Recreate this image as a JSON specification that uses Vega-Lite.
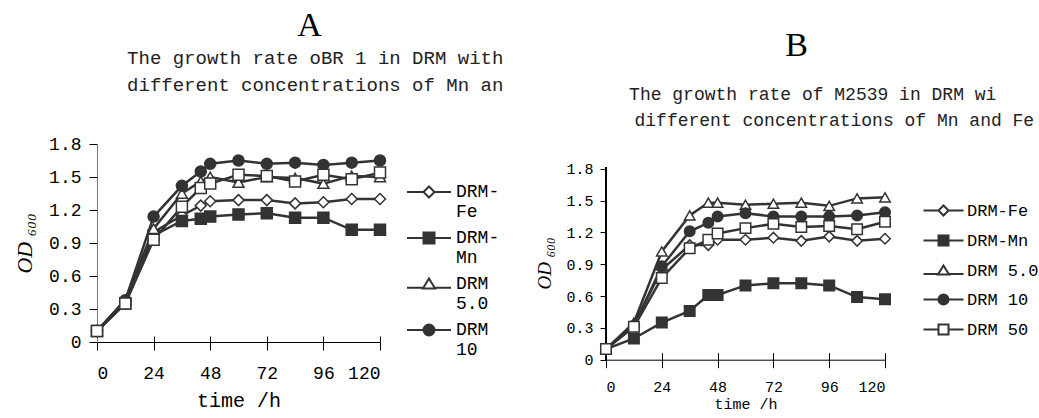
{
  "$schema": "https://vega.github.io/schema/vega-lite/v6.json",
  "background": "white",
  "padding": {"left": 13, "top": 9, "right": 0, "bottom": 0},
  "spacing": 31,
  "config": {
    "view": {"stroke": null},
    "axis": {"grid": false, "tickColor": "black", "labelColor": "black", "titleColor": "black", "titleFontWeight": "normal", "labelOverlap": false},
    "legend": {"labelColor": "black"}
  },
  "datasets": {
    "a": [
      {"t": 0, "v": 0.10, "s": "DRM-Fe"}, {"t": 12, "v": 0.38, "s": "DRM-Fe"}, {"t": 24, "v": 1.00, "s": "DRM-Fe"}, {"t": 36, "v": 1.15, "s": "DRM-Fe"}, {"t": 44, "v": 1.24, "s": "DRM-Fe"}, {"t": 48, "v": 1.28, "s": "DRM-Fe"}, {"t": 60, "v": 1.29, "s": "DRM-Fe"}, {"t": 72, "v": 1.29, "s": "DRM-Fe"}, {"t": 84, "v": 1.26, "s": "DRM-Fe"}, {"t": 96, "v": 1.27, "s": "DRM-Fe"}, {"t": 108, "v": 1.30, "s": "DRM-Fe"}, {"t": 120, "v": 1.30, "s": "DRM-Fe"},
      {"t": 0, "v": 0.10, "s": "DRM-Mn"}, {"t": 12, "v": 0.35, "s": "DRM-Mn"}, {"t": 24, "v": 0.97, "s": "DRM-Mn"}, {"t": 36, "v": 1.10, "s": "DRM-Mn"}, {"t": 44, "v": 1.12, "s": "DRM-Mn"}, {"t": 48, "v": 1.14, "s": "DRM-Mn"}, {"t": 60, "v": 1.16, "s": "DRM-Mn"}, {"t": 72, "v": 1.17, "s": "DRM-Mn"}, {"t": 84, "v": 1.13, "s": "DRM-Mn"}, {"t": 96, "v": 1.13, "s": "DRM-Mn"}, {"t": 108, "v": 1.02, "s": "DRM-Mn"}, {"t": 120, "v": 1.02, "s": "DRM-Mn"},
      {"t": 0, "v": 0.10, "s": "DRM 5.0"}, {"t": 12, "v": 0.38, "s": "DRM 5.0"}, {"t": 24, "v": 1.03, "s": "DRM 5.0"}, {"t": 36, "v": 1.35, "s": "DRM 5.0"}, {"t": 44, "v": 1.46, "s": "DRM 5.0"}, {"t": 48, "v": 1.50, "s": "DRM 5.0"}, {"t": 60, "v": 1.45, "s": "DRM 5.0"}, {"t": 72, "v": 1.50, "s": "DRM 5.0"}, {"t": 84, "v": 1.49, "s": "DRM 5.0"}, {"t": 96, "v": 1.44, "s": "DRM 5.0"}, {"t": 108, "v": 1.51, "s": "DRM 5.0"}, {"t": 120, "v": 1.50, "s": "DRM 5.0"},
      {"t": 0, "v": 0.10, "s": "DRM 10"}, {"t": 12, "v": 0.38, "s": "DRM 10"}, {"t": 24, "v": 1.14, "s": "DRM 10"}, {"t": 36, "v": 1.42, "s": "DRM 10"}, {"t": 44, "v": 1.55, "s": "DRM 10"}, {"t": 48, "v": 1.62, "s": "DRM 10"}, {"t": 60, "v": 1.65, "s": "DRM 10"}, {"t": 72, "v": 1.62, "s": "DRM 10"}, {"t": 84, "v": 1.63, "s": "DRM 10"}, {"t": 96, "v": 1.61, "s": "DRM 10"}, {"t": 108, "v": 1.63, "s": "DRM 10"}, {"t": 120, "v": 1.65, "s": "DRM 10"},
      {"t": 0, "v": 0.10, "s": "DRM 50"}, {"t": 12, "v": 0.35, "s": "DRM 50"}, {"t": 24, "v": 0.93, "s": "DRM 50"}, {"t": 36, "v": 1.23, "s": "DRM 50"}, {"t": 44, "v": 1.40, "s": "DRM 50"}, {"t": 48, "v": 1.44, "s": "DRM 50"}, {"t": 60, "v": 1.52, "s": "DRM 50"}, {"t": 72, "v": 1.51, "s": "DRM 50"}, {"t": 84, "v": 1.46, "s": "DRM 50"}, {"t": 96, "v": 1.52, "s": "DRM 50"}, {"t": 108, "v": 1.48, "s": "DRM 50"}, {"t": 120, "v": 1.54, "s": "DRM 50"}
    ],
    "b": [
      {"t": 0, "v": 0.10, "s": "DRM-Fe"}, {"t": 12, "v": 0.33, "s": "DRM-Fe"}, {"t": 24, "v": 0.85, "s": "DRM-Fe"}, {"t": 36, "v": 1.08, "s": "DRM-Fe"}, {"t": 44, "v": 1.08, "s": "DRM-Fe"}, {"t": 48, "v": 1.13, "s": "DRM-Fe"}, {"t": 60, "v": 1.13, "s": "DRM-Fe"}, {"t": 72, "v": 1.15, "s": "DRM-Fe"}, {"t": 84, "v": 1.12, "s": "DRM-Fe"}, {"t": 96, "v": 1.16, "s": "DRM-Fe"}, {"t": 108, "v": 1.12, "s": "DRM-Fe"}, {"t": 120, "v": 1.14, "s": "DRM-Fe"},
      {"t": 0, "v": 0.10, "s": "DRM-Mn"}, {"t": 12, "v": 0.20, "s": "DRM-Mn"}, {"t": 24, "v": 0.35, "s": "DRM-Mn"}, {"t": 36, "v": 0.46, "s": "DRM-Mn"}, {"t": 44, "v": 0.61, "s": "DRM-Mn"}, {"t": 48, "v": 0.61, "s": "DRM-Mn"}, {"t": 60, "v": 0.70, "s": "DRM-Mn"}, {"t": 72, "v": 0.72, "s": "DRM-Mn"}, {"t": 84, "v": 0.72, "s": "DRM-Mn"}, {"t": 96, "v": 0.70, "s": "DRM-Mn"}, {"t": 108, "v": 0.59, "s": "DRM-Mn"}, {"t": 120, "v": 0.57, "s": "DRM-Mn"},
      {"t": 0, "v": 0.10, "s": "DRM 5.0"}, {"t": 12, "v": 0.35, "s": "DRM 5.0"}, {"t": 24, "v": 1.02, "s": "DRM 5.0"}, {"t": 36, "v": 1.36, "s": "DRM 5.0"}, {"t": 44, "v": 1.48, "s": "DRM 5.0"}, {"t": 48, "v": 1.48, "s": "DRM 5.0"}, {"t": 60, "v": 1.46, "s": "DRM 5.0"}, {"t": 72, "v": 1.47, "s": "DRM 5.0"}, {"t": 84, "v": 1.48, "s": "DRM 5.0"}, {"t": 96, "v": 1.45, "s": "DRM 5.0"}, {"t": 108, "v": 1.52, "s": "DRM 5.0"}, {"t": 120, "v": 1.53, "s": "DRM 5.0"},
      {"t": 0, "v": 0.10, "s": "DRM 10"}, {"t": 12, "v": 0.32, "s": "DRM 10"}, {"t": 24, "v": 0.88, "s": "DRM 10"}, {"t": 36, "v": 1.21, "s": "DRM 10"}, {"t": 44, "v": 1.29, "s": "DRM 10"}, {"t": 48, "v": 1.35, "s": "DRM 10"}, {"t": 60, "v": 1.38, "s": "DRM 10"}, {"t": 72, "v": 1.35, "s": "DRM 10"}, {"t": 84, "v": 1.35, "s": "DRM 10"}, {"t": 96, "v": 1.35, "s": "DRM 10"}, {"t": 108, "v": 1.36, "s": "DRM 10"}, {"t": 120, "v": 1.39, "s": "DRM 10"},
      {"t": 0, "v": 0.10, "s": "DRM 50"}, {"t": 12, "v": 0.31, "s": "DRM 50"}, {"t": 24, "v": 0.77, "s": "DRM 50"}, {"t": 36, "v": 1.05, "s": "DRM 50"}, {"t": 44, "v": 1.13, "s": "DRM 50"}, {"t": 48, "v": 1.19, "s": "DRM 50"}, {"t": 60, "v": 1.24, "s": "DRM 50"}, {"t": 72, "v": 1.28, "s": "DRM 50"}, {"t": 84, "v": 1.25, "s": "DRM 50"}, {"t": 96, "v": 1.26, "s": "DRM 50"}, {"t": 108, "v": 1.23, "s": "DRM 50"}, {"t": 120, "v": 1.30, "s": "DRM 50"}
    ]
  },
  "hconcat": [
    {
      "width": 283,
      "height": 198,
      "data": {"name": "a"},
      "title": {
        "text": "A",
        "subtitle": ["\u200b\u00a0The growth rate oBR 1 in DRM with", "\u200b\u00a0different concentrations of Mn an"],
        "font": "Liberation Serif", "fontSize": 34, "fontWeight": "normal", "color": "black",
        "subtitleFont": "Liberation Mono", "subtitleFontSize": 19, "subtitleLineHeight": 27, "subtitleColor": "#222",
        "subtitlePadding": 6, "anchor": "middle", "frame": "group", "dx": 71, "offset": 40
      },
      "layer": [
        {
          "mark": {"type": "line", "color": "#333", "strokeWidth": 2.5},
          "encoding": {
            "x": {"field": "t", "type": "quantitative", "scale": {"domain": [0, 120], "nice": false},
              "axis": {"values": [0, 24, 48, 72, 96, 120], "tickCount": 12, "title": "time /h", "labelOverlap": false, "labelFont": "Liberation Mono", "labelFontSize": 18, "labelPadding": 14, "tickSize": 8, "domainColor": "black", "titleFont": "Liberation Mono", "titleFontSize": 20, "titlePadding": 8}},
            "y": {"field": "v", "type": "quantitative", "scale": {"domain": [0, 1.8], "nice": false},
              "axis": {"values": [0, 0.3, 0.6, 0.9, 1.2, 1.5, 1.8], "tickCount": 20, "format": ".1~f", "title": "OD ₆₀₀", "labelOverlap": false, "labelFont": "Liberation Mono", "labelFontSize": 18, "labelPadding": 8, "tickSize": 8, "domainColor": "#777", "titleFont": "Liberation Serif", "titleFontStyle": "italic", "titleFontSize": 22, "titlePadding": 12}},
            "detail": {"field": "s"}
          }
        },
        {
          "mark": {"type": "point", "stroke": "#333", "strokeWidth": 1.5, "size": 121, "opacity": 1},
          "encoding": {
            "x": {"field": "t", "type": "quantitative", "axis": null},
            "y": {"field": "v", "type": "quantitative"},
            "shape": {"field": "s", "type": "nominal", "legend": null, "scale": {"domain": ["DRM-Fe", "DRM-Mn", "DRM 5.0", "DRM 10", "DRM 50"], "range": ["diamond", "square", "triangle-up", "circle", "square"]}},
            "fill": {"field": "s", "type": "nominal", "legend": null, "scale": {"domain": ["DRM-Fe", "DRM-Mn", "DRM 5.0", "DRM 10", "DRM 50"], "range": ["white", "#333", "white", "#333", "white"]}}
          }
        },
        {
          "mark": {"type": "point", "strokeWidth": 2, "size": 121, "opacity": 0},
          "encoding": {
            "x": {"field": "t", "type": "quantitative", "axis": {"orient": "bottom", "values": [0, 24, 48, 72, 96, 120], "tickCount": 12, "tickSize": -6, "labels": false, "domain": false, "title": null}},
            "y": {"field": "v", "type": "quantitative"},
            "shape": {"field": "s", "type": "nominal",
              "scale": {"domain": ["DRM-Fe", "DRM-Mn", "DRM 5.0", "DRM 10", "DRM 50"], "range": ["M-4,0H-1M1,0H4M-1,0L0,-1L1,0L0,1Z", "M-4,0H4M-1,-1H1V1H-1Z", "M-4,0.7H-1.1M1.1,0.7H4M0,-1L1.1,0.8L-1.1,0.8Z", "M-4,0H4M-1,0A1,1 0 1,0 1,0A1,1 0 1,0 -1,0Z", "M-4,0H-1M1,0H4M-1,-1H1V1H-1Z"]},
              "legend": {"title": null, "orient": "none", "legendX": 323, "legendY": 39, "values": ["DRM-Fe", "DRM-Mn", "DRM 5.0", "DRM 10"], "symbolSize": 121, "symbolOpacity": 1, "symbolStrokeWidth": 2, "labelFont": "Liberation Mono", "labelFontSize": 18, "labelOffset": 18, "labelBaseline": "middle", "rowPadding": 7,
                "labelExpr": "datum.label == 'DRM-Fe' ? ['DRM-', 'Fe'] : datum.label == 'DRM-Mn' ? ['DRM-', 'Mn'] : datum.label == 'DRM 5.0' ? ['DRM', '5.0'] : ['DRM', '10']"}},
            "fill": {"field": "s", "type": "nominal", "scale": {"domain": ["DRM-Fe", "DRM-Mn", "DRM 5.0", "DRM 10", "DRM 50"], "range": ["white", "#333", "white", "#333", "white"]},
              "legend": {"title": null, "orient": "none", "legendX": 323, "legendY": 39, "values": ["DRM-Fe", "DRM-Mn", "DRM 5.0", "DRM 10"], "symbolSize": 121, "symbolOpacity": 1, "symbolStrokeWidth": 2, "labelFont": "Liberation Mono", "labelFontSize": 18, "labelOffset": 18, "labelBaseline": "middle", "rowPadding": 7,
                "labelExpr": "datum.label == 'DRM-Fe' ? ['DRM-', 'Fe'] : datum.label == 'DRM-Mn' ? ['DRM-', 'Mn'] : datum.label == 'DRM 5.0' ? ['DRM', '5.0'] : ['DRM', '10']"}},
            "stroke": {"field": "s", "type": "nominal", "scale": {"domain": ["DRM-Fe", "DRM-Mn", "DRM 5.0", "DRM 10", "DRM 50"], "range": ["#333", "#333", "#333", "#333", "#333"]},
              "legend": {"title": null, "orient": "none", "legendX": 323, "legendY": 39, "values": ["DRM-Fe", "DRM-Mn", "DRM 5.0", "DRM 10"], "symbolSize": 121, "symbolOpacity": 1, "symbolStrokeWidth": 2, "labelFont": "Liberation Mono", "labelFontSize": 18, "labelOffset": 18, "labelBaseline": "middle", "rowPadding": 7,
                "labelExpr": "datum.label == 'DRM-Fe' ? ['DRM-', 'Fe'] : datum.label == 'DRM-Mn' ? ['DRM-', 'Mn'] : datum.label == 'DRM 5.0' ? ['DRM', '5.0'] : ['DRM', '10']"}}
          }
        }
      ],
      "resolve": {"scale": {"shape": "independent", "fill": "independent", "stroke": "independent"}, "axis": {"x": "independent"}}
    },
    {
      "width": 279,
      "height": 215.7,
      "data": {"name": "b"},
      "title": {
        "text": "B",
        "subtitle": ["\u200b\u00a0\u00a0\u00a0The growth rate of M2539 in DRM wi", "\u200b\u00a0\u00a0\u00a0\u00a0\u00a0\u00a0\u00a0different concentrations of Mn and Fe"],
        "font": "Liberation Serif", "fontSize": 34, "fontWeight": "normal", "color": "black",
        "subtitleFont": "Liberation Mono", "subtitleFontSize": 18, "subtitleLineHeight": 26, "subtitleColor": "#222",
        "subtitlePadding": 23, "anchor": "middle", "frame": "group", "dx": 51, "offset": 14
      },
      "layer": [
        {
          "mark": {"type": "line", "color": "#333", "strokeWidth": 2.5},
          "encoding": {
            "x": {"field": "t", "type": "quantitative", "scale": {"domain": [0, 120], "nice": false},
              "axis": {"values": [0, 24, 48, 72, 96, 120], "tickCount": 12, "title": "time /h", "labelOverlap": false, "labelFont": "Liberation Mono", "labelFontSize": 15, "labelPadding": 12, "tickSize": 8, "domainColor": "black", "titleFont": "Liberation Mono", "titleFontSize": 15, "titlePadding": 2}},
            "y": {"field": "v", "type": "quantitative", "scale": {"domain": [0, 2.0328], "nice": false},
              "axis": {"values": [0, 0.3, 0.6, 0.9, 1.2, 1.5, 1.8], "tickCount": 20, "format": ".1~f", "title": "OD ₆₀₀", "titleY": 119, "labelOverlap": false, "labelFont": "Liberation Mono", "labelFontSize": 15, "labelPadding": 7, "tickSize": 6, "domain": false, "titleFont": "Liberation Serif", "titleFontStyle": "italic", "titleFontSize": 19, "titlePadding": 11}},
            "detail": {"field": "s"}
          }
        },
        {
          "mark": {"type": "rule", "color": "black", "strokeWidth": 1},
          "encoding": {
            "x": {"datum": 0, "type": "quantitative", "axis": null},
            "y": {"datum": 0, "type": "quantitative"},
            "y2": {"datum": 1.81}
          }
        },
        {
          "mark": {"type": "point", "stroke": "#333", "strokeWidth": 1.5, "size": 110, "opacity": 1},
          "encoding": {
            "x": {"field": "t", "type": "quantitative", "axis": null},
            "y": {"field": "v", "type": "quantitative"},
            "shape": {"field": "s", "type": "nominal", "legend": null, "scale": {"domain": ["DRM-Fe", "DRM-Mn", "DRM 5.0", "DRM 10", "DRM 50"], "range": ["diamond", "square", "triangle-up", "circle", "square"]}},
            "fill": {"field": "s", "type": "nominal", "legend": null, "scale": {"domain": ["DRM-Fe", "DRM-Mn", "DRM 5.0", "DRM 10", "DRM 50"], "range": ["white", "#333", "white", "#333", "white"]}}
          }
        },
        {
          "mark": {"type": "point", "strokeWidth": 2, "size": 100, "opacity": 0},
          "encoding": {
            "x": {"field": "t", "type": "quantitative", "axis": {"orient": "bottom", "values": [0, 24, 48, 72, 96, 120], "tickCount": 12, "tickSize": -7, "labels": false, "domain": false, "title": null}},
            "y": {"field": "v", "type": "quantitative"},
            "shape": {"field": "s", "type": "nominal",
              "scale": {"domain": ["DRM-Fe", "DRM-Mn", "DRM 5.0", "DRM 10", "DRM 50"], "range": ["M-4,0H-1M1,0H4M-1,0L0,-1L1,0L0,1Z", "M-4,0H4M-1,-1H1V1H-1Z", "M-4,0.7H-1.1M1.1,0.7H4M0,-1L1.1,0.8L-1.1,0.8Z", "M-4,0H4M-1,0A1,1 0 1,0 1,0A1,1 0 1,0 -1,0Z", "M-4,0H-1M1,0H4M-1,-1H1V1H-1Z"]},
              "legend": {"title": null, "orient": "none", "legendX": 329, "legendY": 58, "symbolSize": 100, "symbolOpacity": 1, "symbolStrokeWidth": 2, "labelFont": "Liberation Mono", "labelFontSize": 17, "labelOffset": 15, "labelBaseline": "middle", "rowPadding": 11}},
            "fill": {"field": "s", "type": "nominal", "scale": {"domain": ["DRM-Fe", "DRM-Mn", "DRM 5.0", "DRM 10", "DRM 50"], "range": ["white", "#333", "white", "#333", "white"]},
              "legend": {"title": null, "orient": "none", "legendX": 329, "legendY": 58, "symbolSize": 100, "symbolOpacity": 1, "symbolStrokeWidth": 2, "labelFont": "Liberation Mono", "labelFontSize": 17, "labelOffset": 15, "labelBaseline": "middle", "rowPadding": 11}},
            "stroke": {"field": "s", "type": "nominal", "scale": {"domain": ["DRM-Fe", "DRM-Mn", "DRM 5.0", "DRM 10", "DRM 50"], "range": ["#333", "#333", "#333", "#333", "#333"]},
              "legend": {"title": null, "orient": "none", "legendX": 329, "legendY": 58, "symbolSize": 100, "symbolOpacity": 1, "symbolStrokeWidth": 2, "labelFont": "Liberation Mono", "labelFontSize": 17, "labelOffset": 15, "labelBaseline": "middle", "rowPadding": 11}}
          }
        }
      ],
      "resolve": {"scale": {"shape": "independent", "fill": "independent", "stroke": "independent"}, "axis": {"x": "independent"}}
    }
  ]
}
